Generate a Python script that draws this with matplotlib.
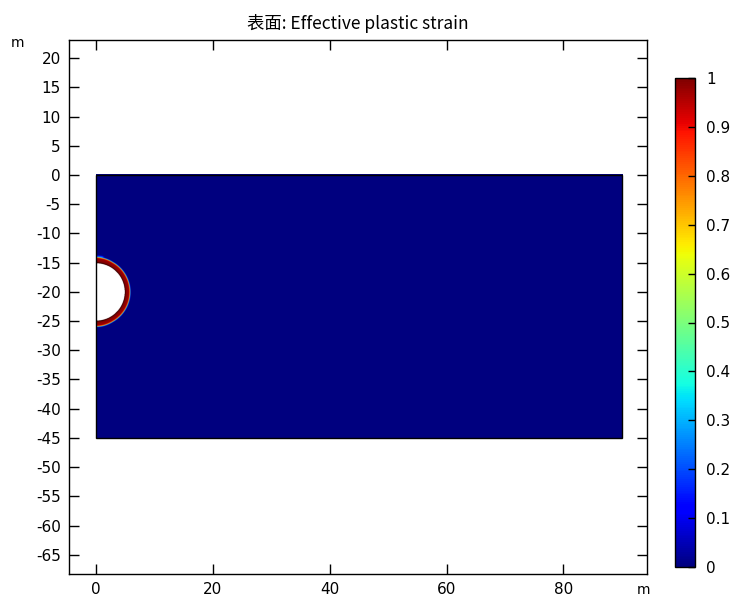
import numpy as np
import matplotlib
matplotlib.use("Agg")
import matplotlib.pyplot as plt
from matplotlib.patches import Rectangle

plt.rcParams['font.family'] = ['DejaVu Sans']

# ---- data ----
domain_x = [0.0, 90.0]
domain_y = [-45.0, 0.0]
hole_center = [0.0, -20.1]
hole_radius = 4.85
# radial profile of effective plastic strain around the hole
ring_r = [4.85, 4.95, 5.05, 5.62, 5.74, 5.84, 5.94]
ring_strain = [1.3, 1.15, 1.0, 0.97, 0.8, 0.25, 0.0]
# angular scaling of the plastic zone thickness (angle from +x axis)
ring_angle_deg = [-90, -80, -60, 0, 60, 80, 90]
ring_thick = [1.1, 1.1, 1.0, 1.0, 1.0, 1.1, 1.15]
# small low-strain halo near the top of the hole
halo_angle_deg = [70, 76, 80, 86, 90]
halo_amp = [0.0, 0.0, 1.0, 1.0, 0.6]
halo_r = [5.5, 5.8, 6.1, 6.3]
halo_strain = [0.35, 0.35, 0.2, 0.0]

x_ticks = [0, 20, 40, 60, 80]
y_ticks = [20, 15, 10, 5, 0, -5, -10, -15, -20, -25, -30, -35, -40, -45,
           -50, -55, -60, -65]
cbar_ticks = [0, 0.1, 0.2, 0.3, 0.4, 0.5, 0.6, 0.7, 0.8, 0.9, 1]
cbar_labels = ['0', '0.1', '0.2', '0.3', '0.4', '0.5', '0.6', '0.7', '0.8', '0.9', '1']
title = "表面: Effective plastic strain"

# ---- field ----
res = 0.04
xs = np.arange(domain_x[0], domain_x[1] + res, res)
ys = np.arange(domain_y[0], domain_y[1] + res, res)
X, Y = np.meshgrid(xs, ys)
R = np.hypot(X - hole_center[0], Y - hole_center[1])
TH = np.degrees(np.arctan2(Y - hole_center[1], X - hole_center[0]))
scale = np.interp(TH, ring_angle_deg, ring_thick)
r_eff = hole_radius + (R - hole_radius) / scale
Z = np.interp(r_eff, ring_r, ring_strain, left=np.nan, right=0.0)
amp = np.interp(TH, halo_angle_deg, halo_amp, left=0.0, right=0.0)
H = amp * np.interp(R, halo_r, halo_strain, left=0.0, right=0.0)
Z = np.where(np.isnan(Z), np.nan, np.maximum(Z, H))
Z = np.ma.masked_invalid(Z)

fig = plt.figure(figsize=(7.5, 5.96), dpi=100)
ax = fig.add_axes([69/750, 22/596, 578/750, 534/596])
cmap = plt.get_cmap('jet').copy()
cmap.set_bad((1, 1, 1, 0))
cmap.set_over('#3c0000')
im = ax.imshow(Z, origin='lower', extent=[xs[0]-res/2, xs[-1]+res/2, ys[0]-res/2, ys[-1]+res/2],
               cmap=cmap, vmin=0, vmax=1.0, interpolation='bilinear', aspect='auto', zorder=1)
ax.add_patch(Rectangle((domain_x[0], domain_y[0]), domain_x[1]-domain_x[0], domain_y[1]-domain_y[0],
                       fill=False, edgecolor='black', linewidth=1.0, zorder=3))
ax.set_xlim(-4.6, 94.3)
ax.set_ylim(-68.3, 23.1)
ax.set_xticks(x_ticks)
ax.set_yticks(y_ticks)
ax.set_yticklabels([str(v) for v in y_ticks])
ax.tick_params(direction='in', length=7, width=1, top=True, right=True, labelsize=11,
               pad=6, colors='black')
for s in ax.spines.values():
    s.set_linewidth(1.0)
ax.set_title(title, fontsize=12.5, family=['Noto Sans CJK SC', 'DejaVu Sans'], pad=8)
fig.text(18/750, 1 - 43/596, 'm', fontsize=10, ha='center', va='center')
fig.text(643/750, 1 - 590/596, 'm', fontsize=10, ha='center', va='center')

# colorbar uses the plain jet map 0..1
import matplotlib.cm as cm
from matplotlib.colors import Normalize
sm = cm.ScalarMappable(norm=Normalize(0, 1), cmap=plt.get_cmap('jet'))
cax = fig.add_axes([675/750, 29/596, 20/750, 489/596])
cb = fig.colorbar(sm, cax=cax, ticks=cbar_ticks)
cb.ax.set_yticklabels(cbar_labels)
cb.ax.tick_params(direction='in', length=5, width=1, labelsize=11, pad=8)
cb.outline.set_linewidth(1.0)

fig.savefig('out.png', dpi=100)
